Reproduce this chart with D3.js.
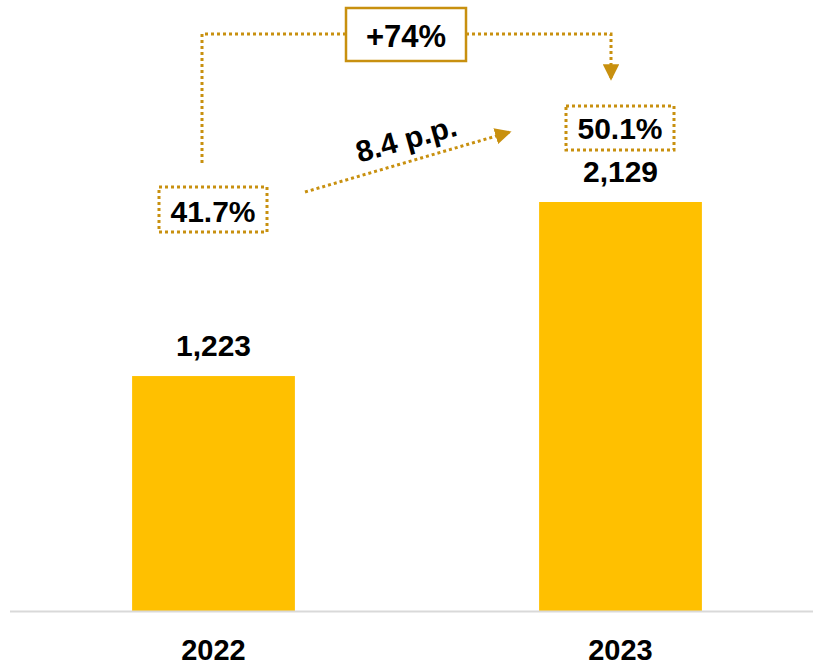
<!DOCTYPE html>
<html>
<head>
<meta charset="utf-8">
<script src="https://cdn.jsdelivr.net/npm/d3@7"></script>
<style>
  html, body { margin: 0; padding: 0; background: #fff; }
  svg { display: block; }
  text { font-family: "Liberation Sans", Arial, sans-serif; font-weight: bold; fill: #000; }
</style>
</head>
<body>
<svg id="chart" width="813" height="667"></svg>
<script>
// Revenue by year
const years = ["2022", "2023"];
const values = [1223, 2129];
const valueLabels = ["1,223", "2,129"];
// Margin share per year
const shares = ["41.7%", "50.1%"];
const growthLabel = "+74%";
const shareDeltaLabel = "8.4 p.p.";

const baseline = 611;
const svg = d3.select("#chart");
const gold = "#C8900F";

const x = d3.scaleBand().domain(years).range([10, 824]).paddingInner(0.6).paddingOuter(0.3);
const y = d3.scaleLinear().domain([0, 2129]).range([baseline, 202]);
const cx = d => x(d) + x.bandwidth() / 2;

// Bars
svg.selectAll("rect.bar").data(values).join("rect")
  .attr("class", "bar")
  .attr("x", (d, i) => x(years[i]))
  .attr("y", d => y(d))
  .attr("width", x.bandwidth())
  .attr("height", d => baseline - y(d))
  .attr("fill", "#FFC000");

// Baseline
svg.append("line").attr("x1", 10).attr("x2", 813).attr("y1", baseline + 0.5).attr("y2", baseline + 0.5)
  .attr("stroke", "#D9D9D9").attr("stroke-width", 2);

// Year labels
svg.selectAll("text.year").data(years).join("text")
  .attr("class", "year")
  .attr("x", d => cx(d))
  .attr("y", 660)
  .attr("text-anchor", "middle")
  .attr("font-size", 29)
  .text(d => d);

// Value labels above bars
svg.selectAll("text.val").data(values).join("text")
  .attr("class", "val")
  .attr("x", (d, i) => cx(years[i]))
  .attr("y", d => y(d) - 20)
  .attr("text-anchor", "middle")
  .attr("font-size", 30)
  .text((d, i) => valueLabels[i]);

// Arrow marker
const defs = svg.append("defs");
defs.append("marker").attr("id", "arr").attr("viewBox", "0 0 10 10")
  .attr("refX", 9).attr("refY", 5).attr("markerWidth", 5.5).attr("markerHeight", 5.5)
  .attr("orient", "auto").attr("markerUnits", "strokeWidth")
  .append("path").attr("d", "M0,0 L10,5 L0,10 Z").attr("fill", gold);

const dotted = { stroke: gold, "stroke-width": 3, "stroke-dasharray": "3 3", fill: "none" };
function applyAttrs(sel, o) { Object.entries(o).forEach(([k, v]) => sel.attr(k, v)); return sel; }

// Share boxes
const shareBoxes = [
  { cx: 213, cy: 209.5, w: 108, h: 45, dy: 12.5 },
  { cx: 620, cy: 128, w: 108, h: 44, dy: 11 }
];
shareBoxes.forEach((b, i) => {
  applyAttrs(svg.append("rect")
    .attr("x", b.cx - b.w / 2).attr("y", b.cy - b.h / 2)
    .attr("width", b.w).attr("height", b.h), dotted);
  svg.append("text").attr("x", b.cx).attr("y", b.cy + b.dy)
    .attr("text-anchor", "middle").attr("font-size", 30).text(shares[i]);
});

// Growth bracket
applyAttrs(svg.append("path").attr("d", "M202,163 V34 H345"), dotted);
applyAttrs(svg.append("path").attr("d", "M466,34 H611 V79"), dotted).attr("marker-end", "url(#arr)");
svg.append("rect").attr("x", 346).attr("y", 8).attr("width", 120).attr("height", 53)
  .attr("fill", "#fff").attr("stroke", gold).attr("stroke-width", 2.5);
svg.append("text").attr("x", 406).attr("y", 47).attr("text-anchor", "middle")
  .attr("font-size", 31).text(growthLabel);

// Share delta arrow
applyAttrs(svg.append("line").attr("x1", 305).attr("y1", 192).attr("x2", 510).attr("y2", 132), dotted)
  .attr("marker-end", "url(#arr)");
svg.append("text").attr("transform", "translate(409,149) rotate(-15.5)")
  .attr("text-anchor", "middle").attr("font-size", 30).text(shareDeltaLabel);
</script>
</body>
</html>
